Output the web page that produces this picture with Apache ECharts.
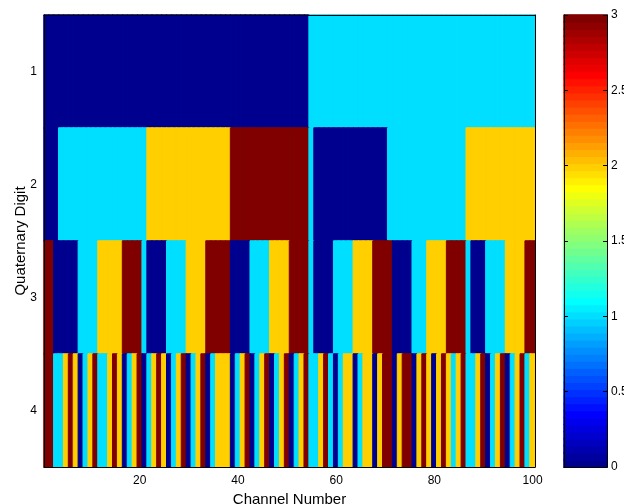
<!DOCTYPE html>
<html>
<head>
<meta charset="utf-8">
<script src="https://cdn.jsdelivr.net/npm/echarts@6/dist/echarts.min.js"></script>
<style>
  html, body { margin: 0; padding: 0; background: #fff; }
  #main { width: 624px; height: 504px; }
</style>
</head>
<body>
<div id="main"></div>
<script>
// quaternary digits of each channel (rows 1..4), read column by column
var digitNames = ['1', '2', '3', '4'];
var digit1 = [
  0,0,0,0,0,0,0,0,0,0, 0,0,0,0,0,0,0,0,0,0, 0,0,0,0,0,0,0,0,0,0, 0,0,0,0,0,0,0,0,0,0, 0,0,0,0,0,0,0,0,0,0,
  0,0,0,0,1,1,1,1,1,1, 1,1,1,1,1,1,1,1,1,1, 1,1,1,1,1,1,1,1,1,1, 1,1,1,1,1,1,1,1,1,1, 1,1,1,1,1,1,1,1,1,1
];
var digit2 = [
  0,0,0,1,1,1,1,1,1,1, 1,1,1,1,1,1,1,1,1,1, 1,2,2,2,2,2,2,2,2,2, 2,2,2,2,2,2,2,2,3,3, 3,3,3,3,3,3,3,3,3,3,
  3,3,3,3,1,0,0,0,0,0, 0,0,0,0,0,0,0,0,0,0, 1,1,1,1,1,1,1,1,1,1, 1,1,1,1,1,1,2,2,2,2, 2,2,2,2,2,2,2,2,2,2
];
var digit3 = [
  3,3,0,0,0,0,0,1,1,1, 1,2,2,2,2,2,3,3,3,3, 1,0,0,0,0,1,1,1,1,2, 2,2,2,3,3,3,3,3,0,0, 0,0,1,1,1,1,2,2,2,2,
  3,3,3,3,1,0,0,0,0,1, 1,1,1,2,2,2,2,3,3,3, 3,0,0,0,0,1,1,1,2,2, 2,2,3,3,3,3,1,0,0,0, 1,1,1,1,2,2,2,2,3,3
];
var digit4 = [
  3,3,1,1,2,3,2,0,1,2, 3,1,1,2,3,2,0,1,2,3, 0,1,2,3,2,0,1,2,3,0, 1,2,3,0,1,2,2,2,0,1, 2,3,0,1,2,3,0,1,2,3,
  0,1,2,3,1,1,2,3,1,0, 1,2,2,0,1,2,2,0,2,3, 3,0,2,3,3,0,2,3,2,0, 2,3,2,1,2,3,1,1,2,3, 0,1,2,3,0,1,2,3,1,2
];
var cbarTicks = [0, 0.5, 1, 1.5, 2, 2.5, 3];

var FONT = '"Liberation Sans", Arial, Helvetica, sans-serif';

// matlab jet colormap
function jet(n) {
  var m = Math.ceil(n / 4);
  var u = [], i;
  for (i = 1; i <= m; i++) u.push(i / m);
  for (i = 1; i < m; i++) u.push(1);
  for (i = m; i >= 1; i--) u.push(i / m);
  var g0 = Math.ceil(m / 2) - (n % 4 === 1 ? 1 : 0);
  var cols = [];
  for (var k = 1; k <= n; k++) {
    var c = [0, 0, 0];
    // r = g + m, b = g - m
    var ig = k - g0, ir = k - g0 - m, ib = k - g0 + m;
    if (ir >= 1 && ir <= u.length) c[0] = u[ir - 1];
    if (ig >= 1 && ig <= u.length) c[1] = u[ig - 1];
    if (ib >= 1 && ib <= u.length) c[2] = u[ib - 1];
    cols.push('rgb(' + Math.round(c[0] * 255) + ',' + Math.round(c[1] * 255) + ',' + Math.round(c[2] * 255) + ')');
  }
  return cols;
}
var JET = jet(64);

// value (0..3) -> colormap entry, like imagesc with clim [0 3]
function jetColor(v) {
  return JET[Math.round(v / 3 * (JET.length - 1))];
}

function cell(x, y, v) {
  var col = jetColor(v);
  // stroke in the same colour so neighbouring cells leave no seams
  return {value: [x, y, v], itemStyle: {color: col, borderColor: col, borderWidth: 1}};
}

var channels = [];
for (var c = 1; c <= 100; c++) channels.push(String(c));

var rows = [digit1, digit2, digit3, digit4];
var cells = [];
for (var r = 0; r < rows.length; r++) {
  for (var j = 0; j < rows[r].length; j++) {
    cells.push(cell(j, r, rows[r][j]));
  }
}

// colour bar levels
var levels = [], cbarCells = [];
for (var l = 0; l < JET.length; l++) {
  levels.push(String(l));
  cbarCells.push(cell(0, l, l * 3 / (JET.length - 1)));
}

function everyTwenty(idx, val) { return (Number(val) % 20) === 0; }

var chart = echarts.init(document.getElementById('main'));
var option = {
  animation: false,
  textStyle: {fontFamily: FONT},
  grid: [
    {left: 44, top: 15, width: 491, height: 452, outerBoundsMode: 'none', containLabel: false},
    {left: 564, top: 15, width: 43, height: 452, outerBoundsMode: 'none', containLabel: false}
  ],
  xAxis: [
    {
      type: 'category', gridIndex: 0, data: channels, position: 'bottom', z: 10,
      name: 'Channel Number', nameLocation: 'middle', nameGap: 22,
      nameTextStyle: {fontSize: 15, color: '#000', fontFamily: FONT},
      axisLine: {lineStyle: {color: '#000', width: 1}},
      axisTick: {inside: true, length: 5, alignWithLabel: true, interval: everyTwenty, lineStyle: {color: '#000'}},
      axisLabel: {interval: everyTwenty, margin: 8, fontSize: 12, color: '#000', fontFamily: FONT},
      splitLine: {show: false}
    },
    {
      type: 'category', gridIndex: 0, data: channels, position: 'top', z: 10,
      axisLine: {lineStyle: {color: '#000', width: 1}},
      axisTick: {inside: true, length: 5, alignWithLabel: true, interval: everyTwenty, lineStyle: {color: '#000'}},
      axisLabel: {show: false}, splitLine: {show: false}
    },
    {
      type: 'category', gridIndex: 1, data: ['c'], position: 'bottom', z: 10,
      axisLine: {lineStyle: {color: '#000', width: 1}},
      axisTick: {show: false}, axisLabel: {show: false}, splitLine: {show: false}
    },
    {
      type: 'category', gridIndex: 1, data: ['c'], position: 'top', z: 10,
      axisLine: {lineStyle: {color: '#000', width: 1}},
      axisTick: {show: false}, axisLabel: {show: false}, splitLine: {show: false}
    }
  ],
  yAxis: [
    {
      type: 'category', gridIndex: 0, data: digitNames, inverse: true, position: 'left', z: 10,
      name: 'Quaternary Digit', nameLocation: 'middle', nameGap: 16, nameRotate: 90,
      nameMoveOverlap: false,
      nameTextStyle: {fontSize: 15, color: '#000', fontFamily: FONT},
      axisLine: {lineStyle: {color: '#000', width: 1}},
      axisTick: {inside: true, length: 5, alignWithLabel: true, lineStyle: {color: '#000'}},
      axisLabel: {margin: 7, fontSize: 12, color: '#000', fontFamily: FONT},
      splitLine: {show: false}
    },
    {
      type: 'category', gridIndex: 0, data: digitNames, inverse: true, position: 'right', z: 10,
      axisLine: {lineStyle: {color: '#000', width: 1}},
      axisTick: {inside: true, length: 5, alignWithLabel: true, lineStyle: {color: '#000'}},
      axisLabel: {show: false}, splitLine: {show: false}
    },
    {
      type: 'category', gridIndex: 1, data: levels, show: false
    },
    {
      type: 'value', gridIndex: 1, min: 0, max: 3, interval: 0.5, position: 'right', z: 10,
      axisLine: {show: true, lineStyle: {color: '#000', width: 1}},
      axisTick: {show: true, inside: true, length: 4, lineStyle: {color: '#000'}},
      axisLabel: {margin: 4, fontSize: 12, color: '#000', fontFamily: FONT,
        formatter: function (v) { return cbarTicks.indexOf(v) >= 0 ? String(v) : ''; }},
      splitLine: {show: false}
    },
    {
      type: 'value', gridIndex: 1, min: 0, max: 3, interval: 0.5, position: 'left', z: 10,
      axisLine: {show: true, lineStyle: {color: '#000', width: 1}},
      axisTick: {show: true, inside: true, length: 4, lineStyle: {color: '#000'}},
      axisLabel: {show: false}, splitLine: {show: false}
    }
  ],
  series: [
    {
      type: 'heatmap', xAxisIndex: 0, yAxisIndex: 0, data: cells,
      emphasis: {disabled: true}, progressive: 0
    },
    {
      type: 'heatmap', xAxisIndex: 2, yAxisIndex: 2, data: cbarCells,
      emphasis: {disabled: true}, progressive: 0
    }
  ]
};
chart.setOption(option);
</script>
</body>
</html>
